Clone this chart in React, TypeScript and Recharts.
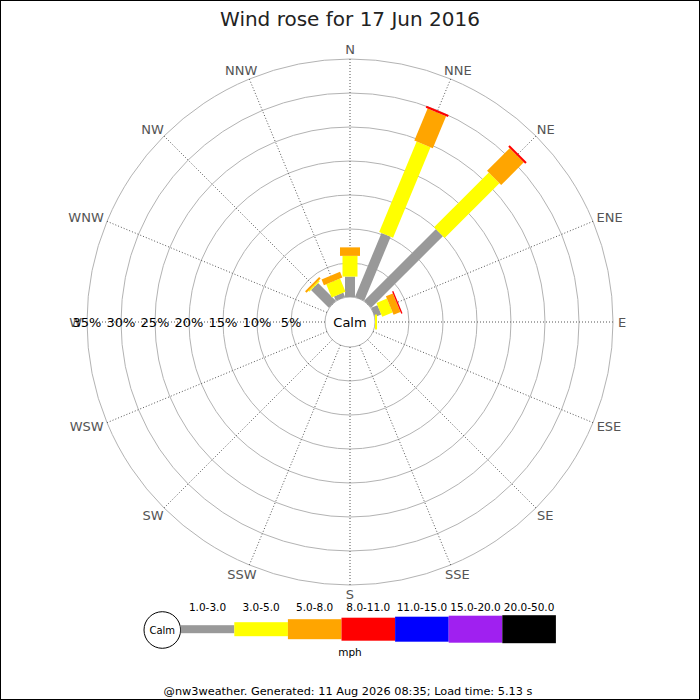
import React from 'react';
import { RadialBarChart, RadialBar, PolarAngleAxis, PolarRadiusAxis, PolarGrid } from 'recharts';

const directions = ['N', 'NNE', 'NE', 'ENE', 'E', 'ESE', 'SE', 'SSE', 'S', 'SSW', 'SW', 'WSW', 'W', 'WNW', 'NW', 'NNW'];
const bearings = [0, 22.5, 45, 67.5, 90, 112.5, 135, 157.5, 180, 202.5, 225, 247.5, 270, 292.5, 315, 337.5];
const speedBands = ['1.0-3.0', '3.0-5.0', '5.0-8.0', '8.0-11.0', '11.0-15.0', '15.0-20.0', '20.0-50.0'];
// percentage of time per direction, per speed band (mph)
const band1 = [3.0, 10.2, 14.9, 1.0, 0, 0, 0, 0, 0, 0, 0, 0, 0, 0, 3.7, 0.7];
const band2 = [3.05, 14.4, 11.4, 1.65, 0.3, 0, 0, 0, 0, 0, 0, 0, 0, 0, 0.2, 2.1];
const band3 = [1.25, 5.1, 4.7, 1.1, 0, 0, 0, 0, 0, 0, 0, 0, 0, 0, 0.3, 0.9];
const band4 = [0, 0.3, 0.3, 0.2, 0, 0, 0, 0, 0, 0, 0, 0, 0, 0, 0, 0];
const band5 = [0, 0, 0, 0, 0, 0, 0, 0, 0, 0, 0, 0, 0, 0, 0, 0];
const band6 = [0, 0, 0, 0, 0, 0, 0, 0, 0, 0, 0, 0, 0, 0, 0, 0];
const band7 = [0, 0, 0, 0, 0, 0, 0, 0, 0, 0, 0, 0, 0, 0, 0, 0];
const bands = [band1, band2, band3, band4, band5, band6, band7];
const radiusTicks = [0, 5, 10, 15, 20, 25, 30, 35];
const titleText = 'Wind rose for 17 Jun 2016';
const unitText = 'mph';
const footerText = '@nw3weather. Generated: 11 Aug 2026 08:35; Load time: 5.13 s';

// styles
const bandColors = ['#999999', '#ffff00', '#ffa500', '#ff0000', '#0000ff', '#a020f0', '#000000'];
const barWidths = [10, 15, 20, 24, 25, 27, 28];
const legendHeights = [8, 14, 20, 23, 25, 27, 28];
const FONT = '"DejaVu Sans", Verdana, sans-serif';
const CX = 350;
const CY = 322;
const LABEL_FS = 13;
const glyphEm: Record<string, number> = { N: 0.748, E: 0.632, S: 0.635, W: 0.989 };

const data = directions.map((dir, i) => {
  const row: any = { dir, bearing: bearings[i] };
  bands.forEach((b, k) => {
    row['b' + k] = b[i];
  });
  return row;
});

const dirByBearing: Record<string, string> = {};
bearings.forEach((b, i) => {
  dirByBearing[String(b)] = directions[i];
});

const makeShape = (w: number, color: string) => (props: any) => {
  const { cx, cy, innerRadius, outerRadius, startAngle, endAngle } = props;
  if (!(outerRadius - innerRadius > 0.05)) return <g />;
  const mid = (((startAngle + endAngle) / 2) * Math.PI) / 180;
  const ux = Math.cos(mid);
  const uy = -Math.sin(mid);
  const px = -uy;
  const py = ux;
  const h = w / 2;
  const p = (r: number, s: number) => `${cx + ux * r + px * h * s},${cy + uy * r + py * h * s}`;
  const pts = [p(innerRadius, 1), p(outerRadius, 1), p(outerRadius, -1), p(innerRadius, -1)].join(' ');
  return <polygon points={pts} fill={color} stroke="none" />;
};

const AngleTick = (props: any) => {
  const { x, y, payload } = props;
  const label = dirByBearing[String(payload.value)];
  if (label == null) return <g />;
  let ang: number;
  if (payload && typeof payload.coordinate === 'number') {
    ang = (payload.coordinate * Math.PI) / 180;
  } else {
    ang = Math.atan2(-(y - CY), x - CX);
  }
  const w = label.split('').reduce((s: number, c: string) => s + (glyphEm[c] || 0.7), 0) * LABEL_FS;
  const capH = 0.729 * LABEL_FS;
  const tx = x + (w / 2) * Math.cos(ang);
  const tyCenter = y - (capH / 2) * Math.sin(ang);
  return (
    <text x={tx} y={tyCenter + capH / 2} textAnchor="middle" fill="#555" fontSize={LABEL_FS} fontFamily={FONT}>
      {label}
    </text>
  );
};

const RadiusTick = (props: any) => {
  const { x, y, payload } = props;
  if (!payload || payload.value === 0) return <g />;
  return (
    <text x={x} y={y} textAnchor="middle" dominantBaseline="central" fill="#000" fontSize={13} fontFamily={FONT}>
      {payload.value + '%'}
    </text>
  );
};

const LEG_X0 = 180.7;
const LEG_W = 53.6;
const LEG_CY = 629.2;

export default function App() {
  return (
    <div style={{ position: 'absolute', left: 0, top: 0, width: 700, height: 700, background: '#fff' }}>
      <div style={{ position: 'absolute', left: 0, top: 0 }}>
        <RadialBarChart
          width={700}
          height={700}
          data={data}
          layout="centric"
          cx={CX}
          cy={CY}
          innerRadius={25}
          outerRadius={263}
          startAngle={90}
          endAngle={-270}
          margin={{ top: 0, right: 0, bottom: 0, left: 0 }}
        >
          <PolarGrid gridType="circle" radialLines={false} stroke="#b3b3b3" strokeWidth={1} />
          <PolarGrid gridType="circle" polarRadius={[]} stroke="#555" strokeWidth={1} strokeDasharray="1 2" />
          <PolarAngleAxis
            dataKey="bearing"
            type="number"
            domain={[0, 360]}
            ticks={bearings}
            axisLine={false}
            tickLine={false}
            tickSize={5}
            tick={<AngleTick />}
          />
          <PolarRadiusAxis
            type="number"
            domain={[0, 35]}
            ticks={radiusTicks}
            angle={180}
            axisLine={false}
            tickLine={false}
            tick={<RadiusTick />}
          />
          {speedBands.map((name, k) => (
            <RadialBar
              key={name}
              name={name}
              dataKey={'b' + k}
              stackId="wind"
              fill={bandColors[k]}
              shape={makeShape(barWidths[k], bandColors[k])}
              isAnimationActive={false}
            />
          ))}
        </RadialBarChart>
      </div>
      <svg width={700} height={700} style={{ position: 'absolute', left: 0, top: 0, pointerEvents: 'none' }}>
        <text x={350} y={26} textAnchor="middle" fontSize={20} fill="#222" fontFamily={FONT}>
          {titleText}
        </text>
        <text x={CX} y={CY} textAnchor="middle" dominantBaseline="central" fontSize={13} fill="#000" fontFamily={FONT}>
          Calm
        </text>
        <circle cx={162.3} cy={630} r={18.3} fill="#fff" stroke="#000" strokeWidth={1} />
        <text x={162.3} y={630} textAnchor="middle" dominantBaseline="central" fontSize={10} fill="#000" fontFamily={FONT}>
          Calm
        </text>
        {speedBands.map((name, k) => (
          <g key={name}>
            <rect
              x={LEG_X0 + k * LEG_W}
              y={LEG_CY - legendHeights[k] / 2}
              width={LEG_W}
              height={legendHeights[k]}
              fill={bandColors[k]}
            />
            <text
              x={LEG_X0 + k * LEG_W + LEG_W / 2}
              y={610.5}
              textAnchor="middle"
              fontSize={10.5}
              fill="#000"
              fontFamily={FONT}
            >
              {name}
            </text>
          </g>
        ))}
        <text x={350} y={656} textAnchor="middle" fontSize={10.5} fill="#000" fontFamily={FONT}>
          {unitText}
        </text>
        <text x={348} y={694.5} textAnchor="middle" fontSize={11.3} fill="#000" fontFamily={FONT}>
          {footerText}
        </text>
        <rect x={0.5} y={0.5} width={699} height={699} fill="none" stroke="#000" strokeWidth={1} />
      </svg>
    </div>
  );
}
